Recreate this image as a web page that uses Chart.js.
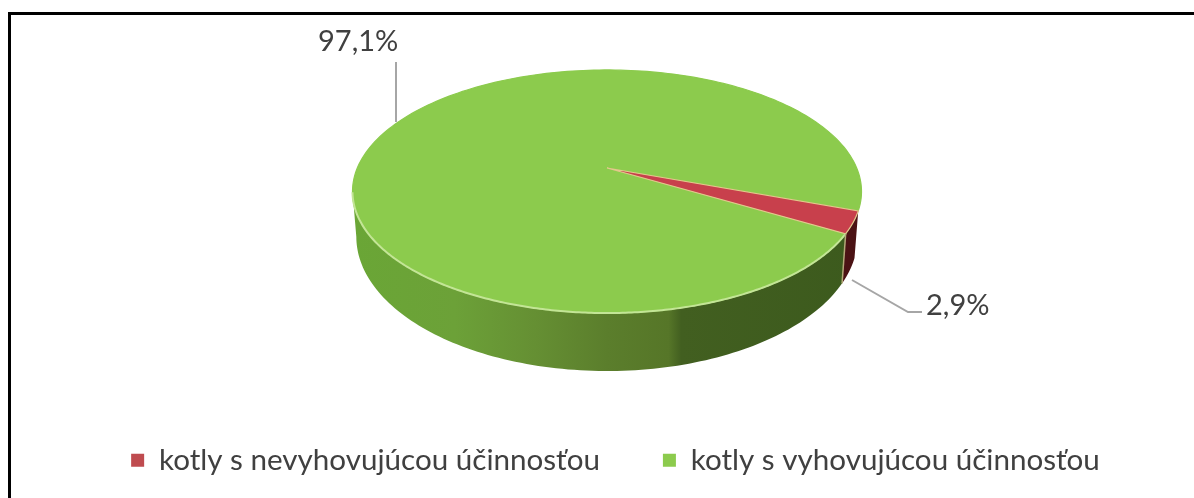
<!DOCTYPE html>
<html>
<head>
<meta charset="utf-8">
<script src="https://cdn.jsdelivr.net/npm/chart.js@4/dist/chart.umd.min.js"></script>
<style>
html, body { margin: 0; padding: 0; background: #fff; overflow: hidden; }
#wrap { position: relative; width: 1194px; height: 498px; }
#frame { position: absolute; left: 8px; top: 12px; right: 0; bottom: 0; border-left: 3px solid #000; border-top: 3px solid #000; }
canvas { position: absolute; left: 0; top: 0; }
</style>
</head>
<body>
<div id="wrap">
    <div id="frame"></div>
    <canvas id="pie" width="1194" height="498"></canvas>
</div>
<script>
// data
const categories = ['kotly s nevyhovujúcou účinnosťou', 'kotly s vyhovujúcou účinnosťou'];
const shares = [2.9, 97.1];
const topColors = ['#c8404c', '#8ccb4d'];
const legendColors = ['#bf4b4f', '#8ccb4d'];

// perspective of the disc: centre point, half sizes, tilt
const cx = 607, cy = 168, halfW = 249.7, halfH = 117, tilt = 0.1934;

function rim(angle) {
    const u = Math.cos(angle), v = Math.sin(angle);
    const w = 1 - tilt * v;
    return { x: cx + halfW * u / w, y: cy + halfH * v / w };
}

// same rim on the underside of the pie
function lowerRim(angle) {
    const p = rim(angle);
    return { x: cx + (p.x - cx) * 0.985, y: p.y * 1.105 + 25.1 };
}

function wall(ctx, from, to, fill) {
    ctx.beginPath();
    const steps = 120;
    for (let i = 0; i <= steps; i++) {
        const p = rim(from + (to - from) * i / steps);
        i ? ctx.lineTo(p.x, p.y) : ctx.moveTo(p.x, p.y);
    }
    for (let i = steps; i >= 0; i--) {
        const p = lowerRim(from + (to - from) * i / steps);
        ctx.lineTo(p.x, p.y);
    }
    ctx.closePath();
    ctx.fillStyle = fill;
    ctx.fill();
}

function slice(ctx, from, to, fill, edge) {
    ctx.beginPath();
    ctx.moveTo(cx, cy);
    const steps = 240;
    for (let i = 0; i <= steps; i++) {
        const p = rim(from + (to - from) * i / steps);
        ctx.lineTo(p.x, p.y);
    }
    ctx.closePath();
    ctx.fillStyle = fill;
    ctx.fill();
    ctx.strokeStyle = edge;
    ctx.lineWidth = 1.2;
    ctx.stroke();
}

function leader(ctx, pts) {
    ctx.beginPath();
    pts.forEach((p, i) => i ? ctx.lineTo(p[0], p[1]) : ctx.moveTo(p[0], p[1]));
    ctx.strokeStyle = '#a6a6a6';
    ctx.lineWidth = 2;
    ctx.stroke();
}

const pie3d = {
    id: 'pie3d',
    beforeDatasetDraw(chart) {
        const ctx = chart.ctx;
        const arcs = chart.getDatasetMeta(0).data;
        const red = arcs[0], green = arcs[1];
        const leftEnd = Math.PI - Math.asin(tilt);

        ctx.save();
        const greenWall = ctx.createLinearGradient(353, 0, 862, 0);
        greenWall.addColorStop(0, '#6aa636');
        greenWall.addColorStop(0.2, '#6ca138');
        greenWall.addColorStop(0.36, '#658f33');
        greenWall.addColorStop(0.5, '#5b7e2c');
        greenWall.addColorStop(0.62, '#567628');
        greenWall.addColorStop(0.645, '#425f20');
        greenWall.addColorStop(1, '#3c5a1d');
        wall(ctx, red.endAngle, leftEnd, greenWall);
        wall(ctx, red.startAngle, red.endAngle, '#4b1214');

        // faces
        slice(ctx, green.startAngle, green.endAngle, topColors[1], '#8ccb4d');
        slice(ctx, red.startAngle, red.endAngle, topColors[0], '#e2c98c');

        // light edge along the front of the top face
        ctx.beginPath();
        for (let a = red.endAngle; a <= leftEnd; a += 0.01) {
            const p = rim(a);
            ctx.lineTo(p.x, p.y);
        }
        ctx.strokeStyle = '#c3e596';
        ctx.lineWidth = 2;
        ctx.stroke();

        // seam between the two walls
        const a = rim(red.endAngle), b = lowerRim(red.endAngle);
        ctx.beginPath();
        ctx.moveTo(a.x, a.y);
        ctx.lineTo(b.x, b.y);
        ctx.strokeStyle = '#b3a878';
        ctx.lineWidth = 1.5;
        ctx.stroke();

        // labels
        leader(ctx, [[396, 62], [396, 122]]);
        leader(ctx, [[852, 280], [908, 312], [922, 312]]);
        ctx.fillStyle = '#404040';
        ctx.font = '29px Lato';
        ctx.textBaseline = 'alphabetic';
        ctx.textAlign = 'left';
        const fmt = v => v.toFixed(1).replace('.', ',') + '%';
        ctx.fillText(fmt(shares[1]), 318, 51);
        ctx.fillText(fmt(shares[0]), 926, 315);
        ctx.restore();
        return false;
    }
};

new Chart(document.getElementById('pie'), {
    type: 'pie',
    data: {
        labels: categories,
        datasets: [{ data: shares, backgroundColor: legendColors, borderWidth: 0 }]
    },
    options: {
        responsive: false,
        animation: false,
        rotation: 110,
        layout: { padding: { left: 37, bottom: 13 } },
        plugins: {
            tooltip: { enabled: false },
            legend: {
                position: 'bottom',
                labels: {
                    color: '#404040',
                    boxWidth: 13,
                    boxHeight: 13,
                    padding: 63,
                    font: { family: 'Lato', size: 29.6 }
                }
            }
        }
    },
    plugins: [pie3d]
});
</script>
</body>
</html>
